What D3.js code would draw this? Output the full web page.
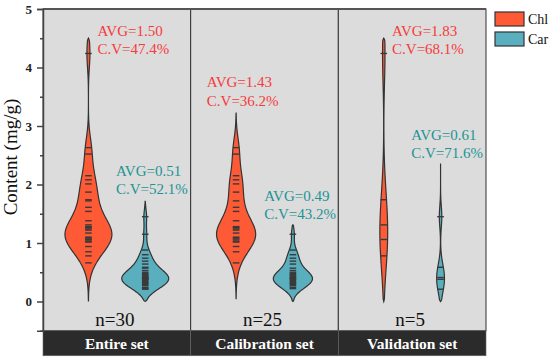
<!DOCTYPE html>
<html>
<head>
<meta charset="utf-8">
<script src="https://cdn.jsdelivr.net/npm/d3@7"></script>
<style>
  body { margin: 0; background: #fff; }
  svg text { font-family: "Liberation Serif", "Times New Roman", serif; }
</style>
</head>
<body>
<div id="chart"></div>
<script>
// Data
const groups = ["Entire set", "Calibration set", "Validation set"]
const seriesNames = ["Chl", "Car"]

const calibChl = [2.63, 2.52, 2.15, 2.08, 2.01, 1.87, 1.72, 1.61, 1.54, 1.38, 1.28, 1.27, 1.26,
                  1.24, 1.22, 1.17, 1.10, 1.09, 1.07, 1.05, 1.02, 1.02, 0.94, 0.85, 0.66]
const validChl = [4.24, 1.74, 1.31, 1.06, 0.78]
const calibCar = [1.15, 0.88, 0.80, 0.74, 0.69, 0.64, 0.57, 0.53, 0.50, 0.48, 0.46, 0.45, 0.43,
                  0.41, 0.40, 0.39, 0.38, 0.36, 0.34, 0.32, 0.31, 0.29, 0.27, 0.24, 0.22]
const validCar = [1.45, 0.585, 0.41, 0.38, 0.21]
// entire set = calibration + validation
const entireChl = calibChl.concat(validChl)
const entireCar = calibCar.concat(validCar)

const values = [[entireChl, entireCar], [calibChl, calibCar], [validChl, validCar]]

// stat labels as printed
const avgText = [["1.50", "0.51"], ["1.43", "0.49"], ["1.83", "0.61"]]
const cvText  = [["47.4%", "52.1%"], ["36.2%", "43.2%"], ["68.1%", "71.6%"]]

const majorTicks = [0, 1, 2, 3, 4, 5]
const minorTicks = [-0.5, 0.5, 1.5, 2.5, 3.5, 4.5]

// violin shape settings (kde bandwidth, drawn range)
const bandwidth = [[0.24, 0.12], [0.23, 0.11], [0.5, 0.18]]
const shapeRange = [[[0, 4.5], [0, 1.72]], [[0.04, 3.23], [0, 1.31]], [[0, 4.5], [0, 2.36]]]

// label placement: px offset from violin centre, y in data units
const labelDx = [[9, -29.3], [-29.3, -28.7], [8.3, -29.3]]
const labelY  = [[4.54, 2.15], [3.66, 1.72], [4.54, 2.76]]

const fillColor = { Chl: "#FF5A36", Car: "#5AAFBF" }
const textColor = { Chl: "#F53B3B", Car: "#1E9494" }

const width = 550, height = 359
const margin = { top: 9, left: 43, right: 64, bottom: 28 }
const plotBottom = 330.75

const svg = d3.select("#chart").append("svg")
  .attr("width", width)
  .attr("height", height)

const y = d3.scaleLinear().domain([-0.5, 5]).range([plotBottom, margin.top])
const x = d3.scaleBand().domain(groups).range([margin.left, width - margin.right]).padding(0)
const xs = d3.scalePoint().domain(seriesNames).range([0, x.bandwidth()]).padding(0.8)

// panels
svg.append("g").selectAll("rect")
  .data(groups)
  .enter().append("rect")
    .attr("x", d => x(d))
    .attr("y", margin.top)
    .attr("width", x.bandwidth())
    .attr("height", plotBottom - margin.top)
    .attr("fill", "#DCDCDC")
    .attr("stroke", "#333")
    .attr("stroke-width", 1)

svg.append("line")
  .attr("x1", margin.left).attr("x2", width - margin.right)
  .attr("y1", margin.top).attr("y2", margin.top)
  .attr("stroke", "#555").attr("stroke-width", 1.8)

// kde
function kde(vals, h, lo, hi) {
  const k = u => Math.exp(-0.5 * u * u) / Math.sqrt(2 * Math.PI)
  const steps = 120
  return d3.range(steps + 1).map(i => {
    const t = lo + (hi - lo) * i / steps
    return [t, d3.mean(vals, v => k((t - v) / h)) / h]
  })
}

const nMax = d3.max(values, g => d3.max(g, s => s.length))
const maxHalf = 23.5

groups.forEach((g, gi) => {
  seriesNames.forEach((s, si) => {
    const vals = values[gi][si]
    const cx = x(g) + xs(s)
    const [lo, hi] = shapeRange[gi][si]
    const dens = kde(vals, bandwidth[gi][si], lo, hi)
    // close the ends to a point
    dens[0][1] = 0
    dens[dens.length - 1][1] = 0
    const w = d3.scaleLinear()
      .domain([0, d3.max(dens, d => d[1])])
      .range([0, maxHalf * vals.length / nMax])

    const area = d3.area()
      .curve(d3.curveBasis)
      .y(d => y(d[0]))
      .x0(d => cx - w(d[1]))
      .x1(d => cx + w(d[1]))

    svg.append("path")
      .datum(dens)
      .attr("d", area)
      .attr("fill", fillColor[s])
      .attr("stroke", "#333")
      .attr("stroke-width", 1.2)

    // data rug
    svg.append("g").selectAll("line")
      .data(vals)
      .enter().append("line")
        .attr("x1", cx - 3.3).attr("x2", cx + 3.3)
        .attr("y1", d => y(d)).attr("y2", d => y(d))
        .attr("stroke", "#3a3a3a")
        .attr("stroke-width", 1.4)

    // AVG / C.V text
    const tx = cx + labelDx[gi][si]
    const ty = y(labelY[gi][si])
    const t = svg.append("text")
      .attr("x", tx).attr("y", ty)
      .attr("fill", textColor[s])
      .attr("font-size", "15px")
    t.append("tspan").attr("x", tx).text("AVG=" + avgText[gi][si])
    t.append("tspan").attr("x", tx).attr("dy", 18.3).text("C.V=" + cvText[gi][si])
  })

  // n label
  svg.append("text")
    .attr("x", x(g) + x.bandwidth() / 2 - 2)
    .attr("y", 325.5)
    .attr("text-anchor", "middle")
    .attr("font-size", "19px")
    .attr("fill", "#111")
    .text("n=" + values[gi][0].length)
})

// bottom strip
const strip = svg.append("g").selectAll("g")
  .data(groups)
  .enter().append("g")
strip.append("rect")
  .attr("x", d => x(d))
  .attr("y", plotBottom)
  .attr("width", x.bandwidth())
  .attr("height", 25)
  .attr("fill", "#2B2B2B")
  .attr("stroke", "#666")
  .attr("stroke-width", 0.6)
strip.append("text")
  .attr("x", d => x(d) + x.bandwidth() / 2)
  .attr("y", 348.5)
  .attr("text-anchor", "middle")
  .attr("font-size", "15.5px")
  .attr("font-weight", "bold")
  .attr("fill", "#fff")
  .text(d => d)

// y axis
const yAxis = svg.append("g")
  .attr("transform", "translate(" + margin.left + ",0)")
  .call(d3.axisLeft(y).tickValues(majorTicks).tickSize(6).tickPadding(5).tickFormat(d3.format("d")))
yAxis.select(".domain").attr("stroke", "#444").attr("stroke-width", 1.5)
yAxis.selectAll(".tick line").attr("stroke", "#444").attr("stroke-width", 1.5)
yAxis.selectAll(".tick text")
  .attr("font-size", "13px")
  .attr("font-weight", "bold")
  .attr("fill", "#222")

const yMinor = svg.append("g")
  .attr("transform", "translate(" + margin.left + ",0)")
  .call(d3.axisLeft(y).tickValues(minorTicks).tickSize(3).tickFormat(""))
yMinor.select(".domain").remove()
yMinor.selectAll(".tick line").attr("stroke", "#444").attr("stroke-width", 1.5)

svg.append("text")
  .attr("transform", "translate(17,157) rotate(-90)")
  .attr("text-anchor", "middle")
  .attr("font-size", "19px")
  .attr("fill", "#111")
  .text("Content (mg/g)")

// legend
const legend = svg.append("g").selectAll("g")
  .data(seriesNames)
  .enter().append("g")
    .attr("transform", (d, i) => "translate(495," + (12 + i * 20) + ")")
legend.append("rect")
  .attr("width", 29).attr("height", 14)
  .attr("fill", d => fillColor[d])
  .attr("stroke", "#333").attr("stroke-width", 1.2)
legend.append("text")
  .attr("x", 33).attr("y", 12)
  .attr("font-size", "14px")
  .attr("fill", "#111")
  .text(d => d)
</script>
</body>
</html>
